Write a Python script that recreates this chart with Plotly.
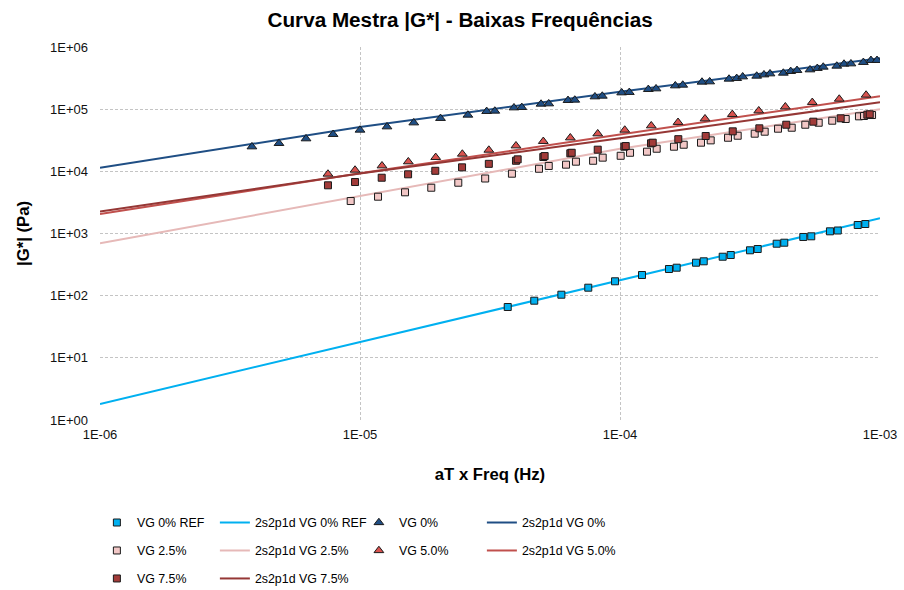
import plotly.graph_objects as go

# Curva mestra |G*| em baixas frequências: frequência reduzida aT x f (Hz) vs |G*| (Pa)

# VG 0% REF - ensaio
ref_freq = [3.70e-5, 4.68e-5, 5.95e-5, 7.55e-5, 9.57e-5, 1.215e-4, 1.543e-4, 1.652e-4,
            1.960e-4, 2.099e-4, 2.483e-4, 2.666e-4, 3.162e-4, 3.385e-4, 4.005e-4, 4.284e-4,
            5.07e-4, 5.44e-4, 6.42e-4, 6.88e-4, 8.21e-4, 8.78e-4]
ref_g = [65.7, 83.0, 103.6, 134.3, 170.3, 214.9, 268.4, 281.8,
         339, 357, 423, 451, 537, 563, 685, 711,
         879, 901, 1084, 1117, 1370, 1421]

# VG 0% - ensaio
vg0_freq = [3.84e-6, 4.88e-6, 6.20e-6, 7.88e-6, 1.0e-5, 1.27e-5, 1.61e-5, 2.04e-5, 2.60e-5,
            3.07e-5, 3.30e-5, 3.91e-5, 4.19e-5, 4.97e-5, 5.32e-5, 6.31e-5, 6.70e-5,
            8.01e-5, 8.55e-5, 1.015e-4, 1.086e-4, 1.285e-4, 1.376e-4, 1.632e-4, 1.743e-4,
            2.067e-4, 2.213e-4, 2.626e-4, 2.811e-4, 2.964e-4, 3.356e-4, 3.579e-4, 3.775e-4,
            4.248e-4, 4.534e-4, 4.795e-4, 5.38e-4, 5.74e-4, 6.05e-4, 6.82e-4, 7.27e-4,
            7.73e-4, 8.63e-4, 9.23e-4, 9.74e-4]
vg0_g = [24900, 28200, 33500, 39400, 46200, 52200, 60500, 71300, 80500,
         92300, 93400, 105500, 107000, 121000, 122400, 138700, 140400,
         158600, 162600, 184000, 186600, 208500, 213300, 238400, 244500,
         273400, 276600, 305600, 313300, 332400, 341300, 358100, 371700,
         381200, 406000, 421600, 431200, 454400, 476500, 494300, 532400,
         538300, 567300, 610900, 610900]

# VG 2.5% - ensaio
vg25_freq = [9.21e-6, 1.173e-5, 1.490e-5, 1.880e-5, 2.388e-5, 3.03e-5, 3.84e-5, 4.88e-5,
             5.32e-5, 6.20e-5, 6.77e-5, 7.88e-5, 8.58e-5, 1.006e-4, 1.093e-4, 1.270e-4,
             1.384e-4, 1.613e-4, 1.758e-4, 2.049e-4, 2.233e-4, 2.603e-4, 2.836e-4, 3.297e-4,
             3.602e-4, 4.053e-4, 4.576e-4, 5.16e-4, 5.81e-4, 6.55e-4, 7.38e-4, 8.30e-4,
             8.68e-4, 9.32e-4]
vg25_g = [3330, 3910, 4600, 5450, 6560, 7670, 9160, 11000,
          12200, 12800, 14300, 14800, 16600, 17800, 19900, 20700,
          23100, 24900, 26800, 28900, 31500, 34700, 37400, 40300,
          43400, 48500, 50300, 56200, 60500, 65200, 69500, 76700,
          77600, 80500]

# VG 5.0% - ensaio
vg50_freq = [7.53e-6, 9.57e-6, 1.215e-5, 1.534e-5, 1.955e-5, 2.475e-5, 3.13e-5, 3.98e-5,
             5.07e-5, 6.44e-5, 8.21e-5, 1.043e-4, 1.319e-4, 1.672e-4, 2.123e-4, 2.704e-4,
             3.417e-4, 4.324e-4, 5.49e-4, 6.97e-4, 8.84e-4]
vg50_g = [9060, 10500, 12300, 14300, 16800, 19000, 22000, 25800,
          30400, 34700, 40300, 46200, 54200, 61500, 70200, 82600,
          94400, 109400, 128900, 145600, 169000]

# VG 7.5% - ensaio
vg75_freq = [7.53e-6, 9.57e-6, 1.212e-5, 1.531e-5, 1.948e-5, 2.469e-5, 3.13e-5, 3.98e-5,
             4.04e-5, 5.07e-5, 5.13e-5, 6.44e-5, 6.52e-5, 8.21e-5, 1.039e-4, 1.052e-4,
             1.316e-4, 1.336e-4, 1.676e-4, 2.136e-4, 2.714e-4, 3.435e-4, 4.36e-4, 5.54e-4,
             7.06e-4, 8.94e-4, 9.13e-4]
vg75_g = [5960, 6730, 7890, 8960, 10200, 11600, 13200, 14800,
          15600, 17000, 17600, 19500, 19900, 22300, 24900, 25500,
          28200, 28900, 32900, 37000, 44000, 49200, 56200, 62900,
          71300, 81400, 82600]

# Modelo 2S2P1D ajustado
fit_freq = [1e-6, 1e-5, 1e-4, 1e-3]
fit_ref = [1.81, 18.0, 178.6, 1755]
fit_vg0 = [11400, 51600, 190800, 657000]
fit_vg25 = [695, 4000, 23000, 99500]
fit_vg50 = [2050, 9300, 39000, 162000]
fit_vg75 = [2250, 9200, 34000, 129000]

x_ticks = [1e-6, 1e-5, 1e-4, 1e-3]
x_ticktext = ["1E-06", "1E-05", "1E-04", "1E-03"]
y_ticks = [1, 10, 100, 1e3, 1e4, 1e5, 1e6]
y_ticktext = ["1E+00", "1E+01", "1E+02", "1E+03", "1E+04", "1E+05", "1E+06"]

C_REF = "#00B0F0"
C_VG0 = "#1F4E84"
C_VG25 = "#E6B9B8"
C_VG50 = "#C0504D"
C_VG75 = "#953735"
EDGE = "#1a1a1a"

fig = go.Figure()

# curvas do modelo (desenhadas por baixo dos pontos); legendwidth define as colunas da legenda
fits = [
    ("2s2p1d VG 0% REF", fit_ref, C_REF, "legend", 2, 99),
    ("2s2p1d VG 0%", fit_vg0, C_VG0, "legend", 4, 90),
    ("2s2p1d VG 2.5%", fit_vg25, C_VG25, "legend2", 2, 99),
    ("2s2p1d VG 5.0%", fit_vg50, C_VG50, "legend2", 4, 90),
    ("2s2p1d VG 7.5%", fit_vg75, C_VG75, "legend3", 2, 99),
]
for name, g, color, leg, rank, lw in fits:
    fig.add_trace(go.Scatter(
        x=fit_freq, y=g, mode="lines", name=name,
        line=dict(color=color, width=2),
        legend=leg, legendrank=rank, legendwidth=lw,
    ))

# pontos de ensaio
points = [
    ("VG 0% REF", ref_freq, ref_g, "square", 7, C_REF, "legend", 1, 73),
    ("VG 0%", vg0_freq, vg0_g, "triangle-up", 8.5, C_VG0, "legend", 3, 78),
    ("VG 2.5%", vg25_freq, vg25_g, "square", 7, "#F2C7C6", "legend2", 1, 73),
    ("VG 5.0%", vg50_freq, vg50_g, "triangle-up", 8.5, "#D9534F", "legend2", 3, 78),
    ("VG 7.5%", vg75_freq, vg75_g, "square", 7, "#A23B39", "legend3", 1, 73),
]
for name, f, g, sym, size, color, leg, rank, lw in points:
    fig.add_trace(go.Scatter(
        x=f, y=g, mode="markers", name=name,
        marker=dict(symbol=sym, size=size, color=color, line=dict(color=EDGE, width=1)),
        legend=leg, legendrank=rank, legendwidth=lw,
    ))

grid = dict(showgrid=True, gridcolor="#C4C4C4", gridwidth=1, griddash="3px,2px",
            zeroline=False, showline=False, ticks="")
axis_title_font = dict(size=16.7, weight="bold", color="#000")

fig.update_xaxes(type="log", range=[-6, -3], tickvals=x_ticks, ticktext=x_ticktext,
                 title=dict(text="aT x Freq (Hz)", font=axis_title_font, standoff=27),
                 tickfont=dict(size=13, color="#111"), ticklabelstandoff=5, **grid)
fig.update_yaxes(type="log", range=[0, 6], tickvals=y_ticks, ticktext=y_ticktext,
                 title=dict(text="|G*| (Pa)", font=axis_title_font, standoff=16),
                 tickfont=dict(size=13, color="#111"), ticklabelstandoff=11, **grid)

leg_common = dict(orientation="h", xanchor="left", yanchor="middle", x=-0.004,
                  entrywidthmode="pixels", itemwidth=30,
                  font=dict(size=12.4, color="#000"), bgcolor="rgba(0,0,0,0)",
                  traceorder="normal")

fig.update_layout(
    width=904, height=590,
    margin=dict(l=100, r=24, t=47, b=170, autoexpand=False),
    paper_bgcolor="white", plot_bgcolor="white",
    font=dict(family="Liberation Sans, Arial, sans-serif", color="#000"),
    title=dict(text="Curva Mestra |G*| - Baixas Frequências", x=0.509, xanchor="center",
               y=0.966, yanchor="middle",
               font=dict(size=20.7, weight="bold", color="#000")),
    legend=dict(y=-0.276, **leg_common),
    legend2=dict(y=-0.351, **leg_common),
    legend3=dict(y=-0.426, **leg_common),
)

fig.write_html("out.html")
